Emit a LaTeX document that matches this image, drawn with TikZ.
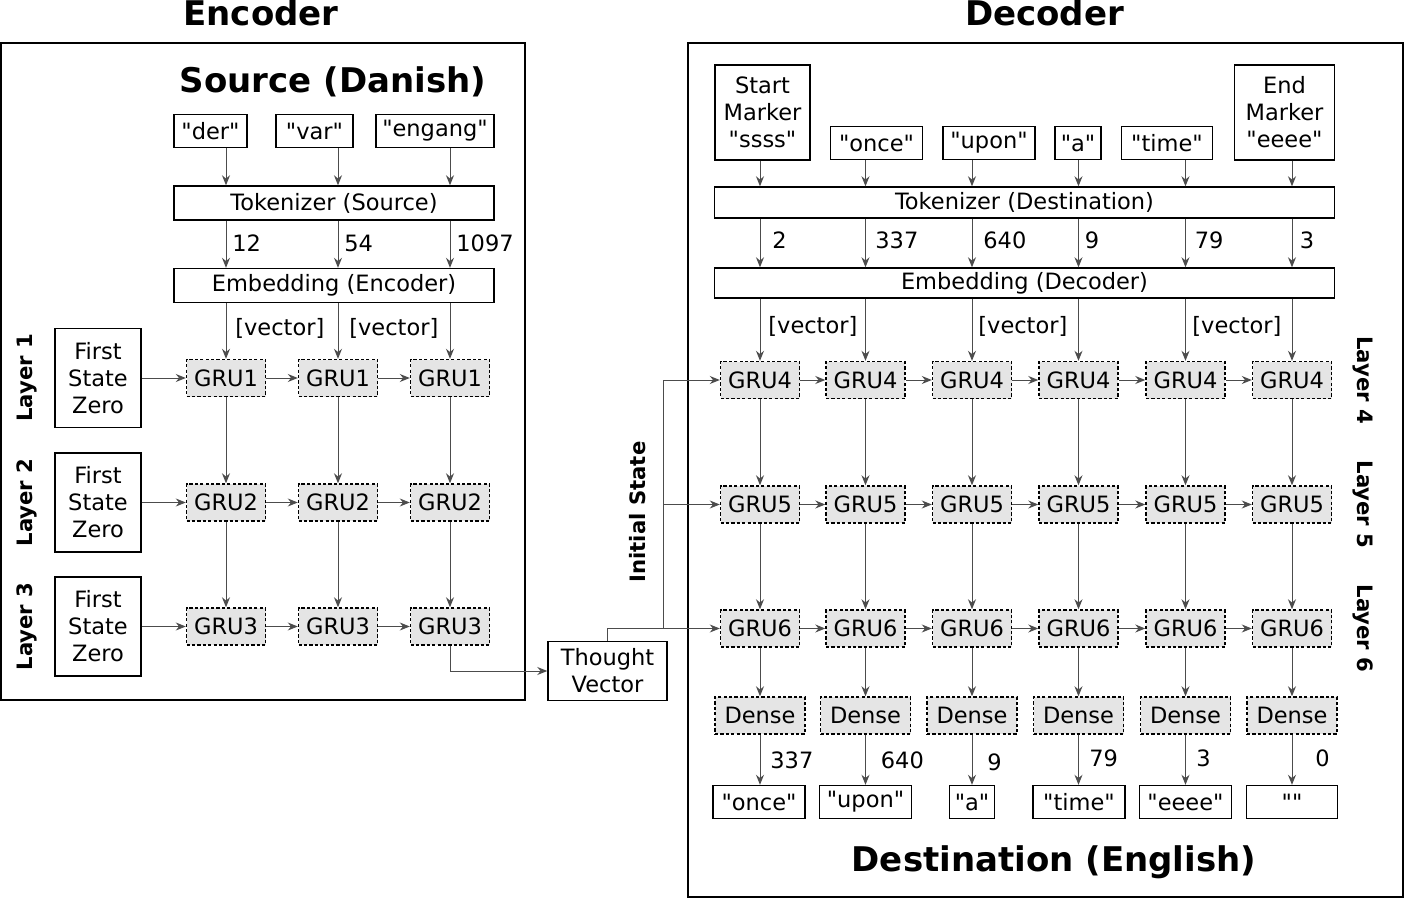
\documentclass[tikz,border=0pt]{standalone}
\usepackage{fontspec}
\setmainfont{DejaVu Sans}[Ligatures=TeXOff]
\usetikzlibrary{arrows.meta,positioning}
\tikzset{
    txt/.style={font=\fontsize{11.25}{13.5}\selectfont, inner sep=0pt},
    box/.style={txt, draw=black, line width=0.7pt, align=center},
    wordbox/.style={box, minimum height=16.5pt},
    gru/.style={box, fill=black!10, dash pattern=on 1.6pt off 1.1pt, minimum width=39.5pt, minimum height=18.5pt},
    dense/.style={gru, minimum width=45pt},
    fsz/.style={box, minimum width=43pt, minimum height=49.5pt},
    frame/.style={draw=black, line width=0.75pt, inner sep=0pt},
    heading/.style={font=\fontsize{17}{20}\selectfont\bfseries, inner sep=0pt},
    layerlbl/.style={font=\fontsize{10.6}{12}\selectfont\bfseries, inner sep=0pt},
    conn/.style={draw=black!70, line width=0.5pt, -{Stealth[length=5pt,width=4pt]}},
}

\begin{document}
\begin{tikzpicture}[x=0.5pt,y=-0.5pt]
            \useasboundingbox (0,0) rectangle (1405,899);
            % encoder side
            \node[frame, minimum width=262pt, minimum height=328.5pt] (encbox) at (263,371.5) {};
            \node[heading] (enctitle) at (261,13) {Encoder};
            \node[heading] (srctitle) at (333,82) {Source (Danish)};
            \node[wordbox, minimum width=36.5pt] (der) at (210.5,131) {"der"};
            \node[wordbox, minimum width=38.5pt] (var) at (314.5,131) {"var"};
            \node[wordbox, minimum width=59pt] (engang) at (435,131) {"engang"};
            \node[box, minimum width=160pt, minimum height=17pt] (toksrc) at (334,203) {Tokenizer (Source)};
            \node[box, minimum width=160pt, minimum height=17pt] (embenc) at (334,285.5) {Embedding (Encoder)};
            \foreach \r/\y in {1/378,2/502.5,3/626.5}{
                \node[fsz] (fsz\r) at (98,\y) {First\\State\\Zero};
                \node[layerlbl, rotate=90] (lay\r) at (27,\y) {Layer \r};
                \foreach \c/\x in {1/226,2/338,3/450}
                    \node[gru] (e\r\c) at (\x,\y) {GRU\r};
                \draw[conn] (fsz\r) -- (e\r1);
                \draw[conn] (e\r1) -- (e\r2);
                \draw[conn] (e\r2) -- (e\r3);
            }
            \foreach \c/\w in {1/der,2/var,3/engang}{
                \draw[conn] (\w.south -| e1\c) -- (toksrc.north -| e1\c);
                \draw[conn] (toksrc.south -| e1\c) -- (embenc.north -| e1\c);
                \draw[conn] (embenc.south -| e1\c) -- (e1\c);
                \draw[conn] (e1\c) -- (e2\c);
                \draw[conn] (e2\c) -- (e3\c);
            }
            \node[txt, anchor=west] (t12) at (232,243) {12};
            \node[txt, anchor=west] (t54) at (344,243) {54};
            \node[txt, anchor=west] (t1097) at (456,243) {1097};
            \node[txt, anchor=west] (vec1) at (235,328) {[vector]};
            \node[txt, anchor=west] (vec2) at (349,328) {[vector]};
            % thought vector
            \node[box, minimum width=59.5pt, minimum height=29.5pt] (tv) at (607.5,671) {Thought\\Vector};
            \draw[conn] (e33.south) |- (tv.west);
            % decoder side
            \node[frame, minimum width=357.5pt, minimum height=427pt] (decbox) at (1045.5,470) {};
            \node[heading] (dectitle) at (1044.5,13) {Decoder};
            \node[heading] (dsttitle) at (1054,862) {Destination (English)};
            \node[box, minimum width=47.5pt, minimum height=47.5pt] (start) at (762.5,112.5) {Start\\Marker\\"ssss"};
            \node[wordbox, minimum width=46pt] (once) at (876.5,143) {"once"};
            \node[wordbox, minimum width=46pt] (upon) at (989,143) {"upon"};
            \node[wordbox, minimum width=23pt] (wa) at (1078,143) {"a"};
            \node[wordbox, minimum width=45.5pt] (time) at (1167,143) {"time"};
            \node[box, minimum width=50pt, minimum height=47.5pt] (endm) at (1284.5,112.5) {End\\Marker\\"eeee"};
            \node[box, minimum width=310pt, minimum height=15.5pt] (tokdst) at (1024.5,202.5) {Tokenizer (Destination)};
            \node[box, minimum width=310pt, minimum height=15pt] (embdec) at (1024.5,283) {Embedding (Decoder)};
            \foreach \r/\y in {4/380,5/504.5,6/628.5}{
                \node[layerlbl, rotate=-90] (lay\r) at (1363,\y) {Layer \r};
                \foreach \c/\x in {1/760,2/865.5,3/972,4/1078.5,5/1185.5,6/1292}
                    \node[gru] (d\r\c) at (\x,\y) {GRU\r};
                \foreach \c [count=\n from 2] in {1,...,5}
                    \draw[conn] (d\r\c) -- (d\r\n);
            }
            \node[wordbox, minimum width=46pt] (out1) at (759,802) {"once"};
            \node[wordbox, minimum width=46pt] (out2) at (865.5,802) {"upon"};
            \node[wordbox, minimum width=22.5pt] (out3) at (972,802) {"a"};
            \node[wordbox, minimum width=46pt] (out4) at (1079,802) {"time"};
            \node[wordbox, minimum width=46pt] (out5) at (1185.5,802) {"eeee"};
            \node[wordbox, minimum width=45.5pt] (out6) at (1292,802) {""};
            \foreach \c/\w in {1/start,2/once,3/upon,4/wa,5/time,6/endm}{
                \node[dense] (dn\c) at (d6\c |- 0,715.5) {Dense};
                \draw[conn] (\w.south -| d4\c) -- (tokdst.north -| d4\c);
                \draw[conn] (tokdst.south -| d4\c) -- (embdec.north -| d4\c);
                \draw[conn] (embdec.south -| d4\c) -- (d4\c);
                \draw[conn] (d4\c) -- (d5\c);
                \draw[conn] (d5\c) -- (d6\c);
                \draw[conn] (d6\c) -- (dn\c);
                \draw[conn] (dn\c.south) -- (out\c.north -| dn\c);
            }
            \node[txt, anchor=west] (s2) at (772,240) {2};
            \node[txt, anchor=west] (s337) at (875,240) {337};
            \node[txt, anchor=west] (s640) at (983,240) {640};
            \node[txt, anchor=west] (s9) at (1084.5,240) {9};
            \node[txt, anchor=west] (s79) at (1194.5,240) {79};
            \node[txt, anchor=west] (s3) at (1299.5,240) {3};
            \node[txt, anchor=west] (dvec1) at (768,326) {[vector]};
            \node[txt, anchor=west] (dvec2) at (978,326) {[vector]};
            \node[txt, anchor=west] (dvec3) at (1192,326) {[vector]};
            \node[txt, anchor=west] (o337) at (770,760) {337};
            \node[txt, anchor=west] (o640) at (880.5,760) {640};
            \node[txt, anchor=west] (o9) at (987,762) {9};
            \node[txt, anchor=west] (o79) at (1089,758) {79};
            \node[txt, anchor=west] (o3) at (1196,758) {3};
            \node[txt, anchor=west] (o0) at (1315,758) {0};
            % initial state
            \node[layerlbl, rotate=90] (init) at (638,512) {Initial State};
            \coordinate (split) at (663,628.5);
            \draw[conn] (tv.north) |- (d61.west);
            \draw[conn] (split) |- (d51.west);
            \draw[conn] (split) |- (d41.west);
        \end{tikzpicture}
\end{document}
